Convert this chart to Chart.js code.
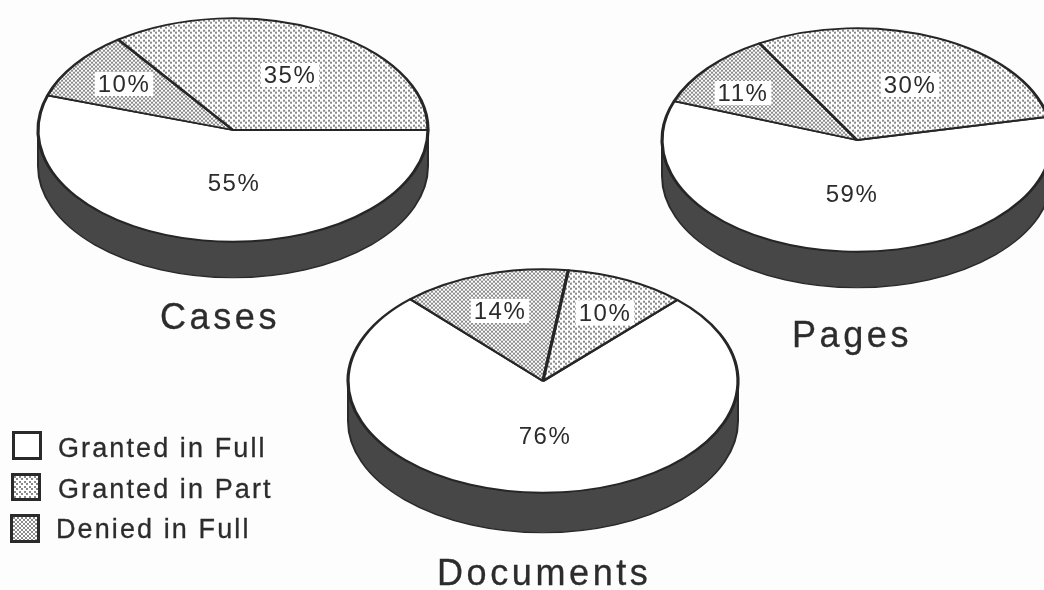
<!DOCTYPE html>
<html><head><meta charset="utf-8">
<script src="https://cdn.jsdelivr.net/npm/chart.js@4"></script>
<style>
html,body{margin:0;padding:0;background:#fdfdfd;overflow:hidden;width:1044px;height:590px}
#wrap{position:relative;width:1044px;height:590px;overflow:hidden;filter:blur(.55px);font-family:"Liberation Sans",Arial,sans-serif;color:#2c2c2c}
canvas{position:absolute}
.t{position:absolute;white-space:nowrap;line-height:normal;-webkit-text-stroke:.3px #2c2c2c}
.sw{position:absolute;box-sizing:border-box;border:3px solid #2a2a2a;background:#fff}
</style></head><body><div id="wrap"></div>
<script>
const categories = ["Granted in Full", "Denied in Full", "Granted in Part"];
const casesValues = [55, 10, 35];
const pagesValues = [59, 11, 30];
const documentsValues = [76, 14, 10];
const legendOrder = ["Granted in Full", "Granted in Part", "Denied in Full"];

const SQUASH = 0.573, R = 195, BOX = 420;
const pies = [
  {title:"Cases", values:casesValues, cx:233, cy:130, depth:36, startDeg:90, labelAt:[[1,53],[-109,-46],[57,-55]], tx:160, tb:329},
  {title:"Pages", values:pagesValues, cx:857, cy:140, depth:36, startDeg:78, labelAt:[[-5,54],[-114,-47],[53,-55]], tx:792, tb:347},
  {title:"Documents", values:documentsValues, cx:543, cy:381, depth:40, startDeg:43.5, labelAt:[[2,55],[-43,-70],[62,-68]], tx:437, tb:585}
];
const wrap = document.getElementById('wrap');

function tile(step, dot, ink){
  const c = document.createElement('canvas');
  c.width = c.height = step;
  const g = c.getContext('2d');
  g.fillStyle = '#fff'; g.fillRect(0,0,step,step);
  g.fillStyle = ink;
  g.fillRect(0,0,dot,dot);
  const h = Math.floor(step/2);
  g.fillRect(h,h,dot,dot);
  return c;
}
const partTile = tile(5, 2, '#8a8a8a');
const deniedTile = tile(4, 2, '#8a8a8a');
function patternOf(ctx, t){
  const p = ctx.createPattern(t,'repeat');
  p.setTransform(new DOMMatrix().scale(1,1/SQUASH));
  return p;
}

const squashPlugin = {
  id:'squash',
  beforeDatasetsDraw(chart){
    const ctx = chart.ctx, arc = chart.getDatasetMeta(0).data[0];
    const {x,y,outerRadius:r} = arc, d = chart.options.plugins.squash.depth;
    ctx.save();
    ctx.translate(x,y);
    ctx.scale(1,SQUASH);
    ctx.translate(-x,-y);
    ctx.fillStyle = '#474747';
    ctx.strokeStyle = '#2a2a2a';
    ctx.lineWidth = 2;
    const dd = d/SQUASH;
    ctx.beginPath();
    ctx.arc(x,y,r,Math.PI,0,true);
    ctx.lineTo(x+r,y+dd);
    ctx.arc(x,y+dd,r,0,Math.PI,false);
    ctx.closePath();
    ctx.fill(); ctx.stroke();
  },
  afterDatasetsDraw(chart){
    const ctx = chart.ctx, opt = chart.options.plugins.squash;
    ctx.restore();
    const meta = chart.getDatasetMeta(0), vals = chart.data.datasets[0].data;
    ctx.save();
    ctx.font = '24px "Liberation Sans", Arial, sans-serif';
    ctx.letterSpacing = '1.5px';
    ctx.textAlign = 'center'; ctx.textBaseline = 'middle';
    meta.data.forEach((a,i)=>{
      const lx = a.x+opt.labelAt[i][0], ly = a.y+opt.labelAt[i][1];
      const s = vals[i]+'%', w = ctx.measureText(s).width;
      ctx.fillStyle = '#fff';
      ctx.fillRect(lx-w/2-3, ly-12, w+6, 24);
      ctx.fillStyle = '#2c2c2c';
      ctx.fillText(s,lx,ly+1);
    });
    ctx.restore();
  }
};

pies.forEach(p=>{
  const cv = document.createElement('canvas');
  cv.width = BOX; cv.height = BOX;
  cv.style.left = (p.cx-BOX/2)+'px';
  cv.style.top = (p.cy-BOX/2)+'px';
  wrap.appendChild(cv);
  const ctx = cv.getContext('2d');
  new Chart(cv,{
    type:'pie',
    data:{labels:categories,datasets:[{
      data:p.values,
      backgroundColor:['#ffffff',patternOf(ctx,deniedTile),patternOf(ctx,partTile)],
      borderColor:'#262626',borderWidth:3.2,clip:false,
      radius:R
    }]},
    options:{
      responsive:false,animation:false,events:[],
      rotation:p.startDeg,
      layout:{padding:0},
      plugins:{legend:{display:false},tooltip:{enabled:false},squash:{depth:p.depth,labelAt:p.labelAt}}
    },
    plugins:[squashPlugin]
  });
  const t = document.createElement('div');
  t.className='t'; t.textContent=p.title;
  t.style.cssText += `left:${p.tx}px;top:${p.tb-36*.905}px;font-size:36px;letter-spacing:3.6px`;
  wrap.appendChild(t);
});

const legendPos = [[12,431,30,29,58,457],[11,473,30,28,58,498],[10,514,30,29,56,538]];
legendOrder.forEach((name,i)=>{
  const [x,y,w,h,tx,tb] = legendPos[i];
  const s = document.createElement('div'); s.className='sw';
  s.style.cssText += `left:${x}px;top:${y}px;width:${w}px;height:${h}px`;
  if(name==='Granted in Part') s.style.backgroundImage=`url(${partTile.toDataURL()})`;
  if(name==='Denied in Full') s.style.backgroundImage=`url(${deniedTile.toDataURL()})`;
  wrap.appendChild(s);
  const t = document.createElement('div'); t.className='t'; t.textContent=name;
  t.style.cssText += `left:${tx}px;top:${tb-27*.905}px;font-size:27px;letter-spacing:2.1px`;
  wrap.appendChild(t);
});
</script></body></html>
